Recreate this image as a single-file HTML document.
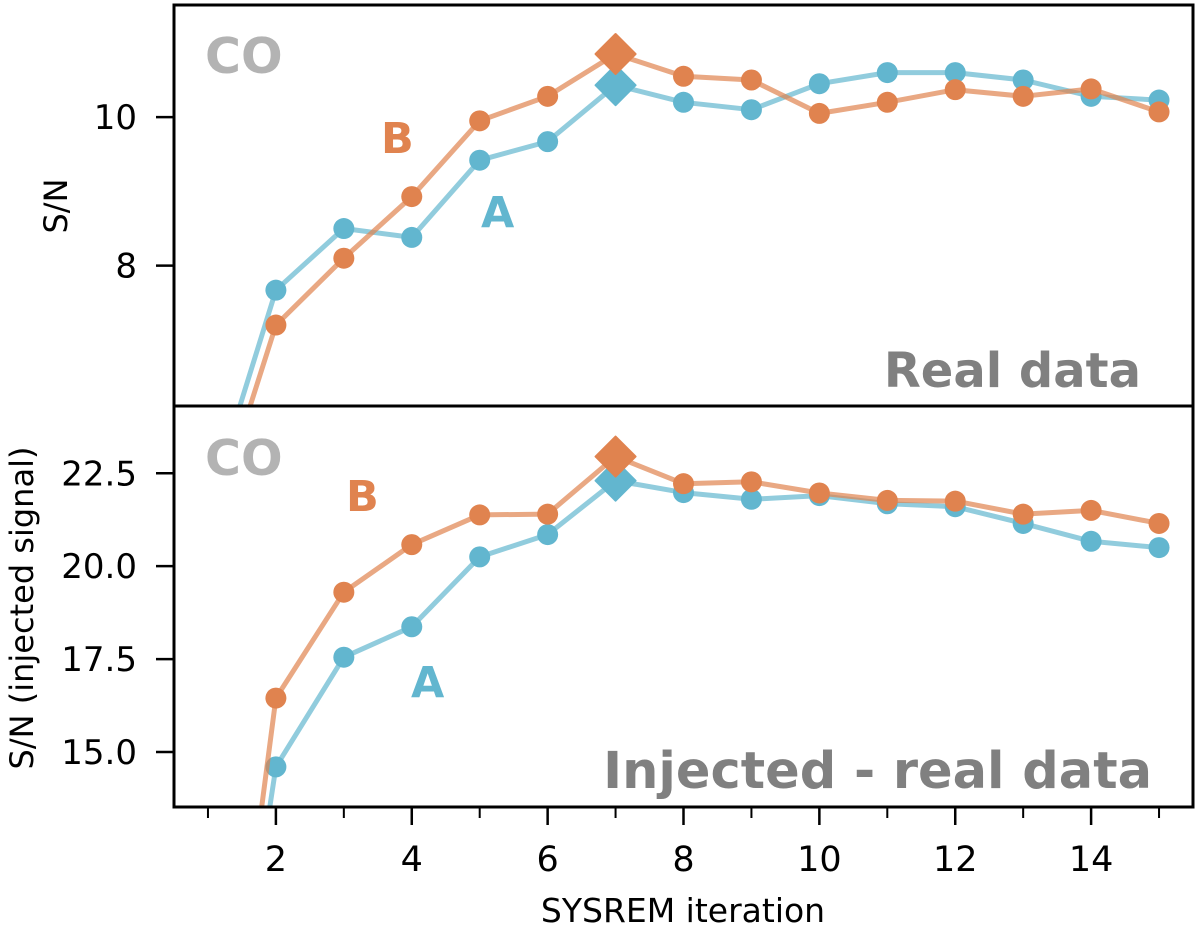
<!DOCTYPE html>
<html><head><meta charset="utf-8"><style>
html,body{margin:0;padding:0;background:#fff;overflow:hidden;width:1200px;height:930px;}
svg{display:block;font-family:"DejaVu Sans","Liberation Sans",sans-serif;}
</style></head><body>
<svg id="chart" width="1200" height="930" viewBox="0 0 1200 930" xmlns="http://www.w3.org/2000/svg">
<defs>
<clipPath id="clipTop"><rect x="174" y="5" width="1019" height="401"/></clipPath>
<clipPath id="clipBot"><rect x="174" y="406" width="1019" height="401"/></clipPath>
</defs>
<g id="gTopMarks" clip-path="url(#clipTop)"></g>
<g id="gBotMarks" clip-path="url(#clipBot)"></g>
<g id="gAxes"></g>
<text x="205" y="73" font-size="49" font-weight="bold" fill="#b3b3b3">CO</text>
<text x="381" y="153" font-size="43" font-weight="bold" fill="#e0834f">B</text>
<text x="481" y="227" font-size="43" font-weight="bold" fill="#62b6cf">A</text>
<text x="1141" y="387" font-size="48" font-weight="bold" fill="#808080" text-anchor="end">Real data</text>
<text x="205" y="475" font-size="49" font-weight="bold" fill="#b3b3b3">CO</text>
<text x="346" y="511" font-size="43" font-weight="bold" fill="#e0834f">B</text>
<text x="411" y="697" font-size="43" font-weight="bold" fill="#62b6cf">A</text>
<text x="1152" y="788" font-size="51" font-weight="bold" fill="#808080" text-anchor="end">Injected - real data</text>
<text x="683" y="922" font-size="33" text-anchor="middle" fill="#000">SYSREM iteration</text>
<text transform="translate(67,206) rotate(-90)" font-size="32" text-anchor="middle" fill="#000">S/N</text>
<text transform="translate(33,608) rotate(-90)" font-size="32" text-anchor="middle" fill="#000">S/N (injected signal)</text>
</svg>
<script>
const iterations = [1,2,3,4,5,6,7,8,9,10,11,12,13,14,15];
const realA = [4.73,7.67,8.5,8.38,9.42,9.67,10.43,10.2,10.1,10.45,10.6,10.6,10.5,10.28,10.23];
const realB = [4.33,7.2,8.1,8.93,9.95,10.28,10.85,10.55,10.5,10.05,10.2,10.37,10.28,10.38,10.07];
const injA = [2.6,14.6,17.55,18.37,20.25,20.85,22.3,21.98,21.8,21.9,21.68,21.6,21.15,20.67,20.5];
const injB = [2.45,16.45,19.3,20.58,21.38,21.4,22.95,22.22,22.27,21.97,21.77,21.75,21.4,21.5,21.15];
const bestIteration = 7;
const xTicks = [2,4,6,8,10,12,14];
const xMinorTicks = [1,3,5,7,9,11,13,15];
const topYTicks = [8,10];
const topYTickLabels = ["8","10"];
const botYTicks = [15,17.5,20,22.5];
const botYTickLabels = ["15.0","17.5","20.0","22.5"];

const NS = "http://www.w3.org/2000/svg";
const L = 174, R = 1193;
const xScale = v => L + (v - 0.5) / 15 * (R - L);
const yTop = v => 5 + (11.51 - v) / (11.51 - 6.11) * 401;
const yBot = v => 406 + (24.31 - v) / (24.31 - 13.52) * 401;
const BLUE = "#62b6cf", ORANGE = "#e0834f";

function mk(tag, attrs, parent) {
  const el = document.createElementNS(NS, tag);
  for (const k in attrs) el.setAttribute(k, attrs[k]);
  parent.appendChild(el);
  return el;
}

function drawSeries(g, xs, ys, yf, color, name) {
  const pts = xs.map((x, i) => xScale(x).toFixed(1) + "," + yf(ys[i]).toFixed(1)).join(" ");
  const line = mk("polyline", {points: pts, fill: "none", stroke: color, "stroke-width": 5, "stroke-opacity": 0.7, "stroke-linejoin": "round"}, g);
  
  
  xs.forEach((x, i) => {
    const cx = xScale(x), cy = yf(ys[i]);
    let m;
    if (x === bestIteration) {
      const s = 20;
      m = mk("polygon", {points: `${cx},${cy-s} ${cx+s},${cy} ${cx},${cy+s} ${cx-s},${cy}`, fill: color, "stroke": color, "stroke-width": 2, "stroke-linejoin": "round"}, g);
    } else {
      m = mk("circle", {cx: cx, cy: cy, r: 10.5, fill: color}, g);
    }
    
    
  });
}

const gT = document.getElementById("gTopMarks");
const gB = document.getElementById("gBotMarks");
drawSeries(gT, iterations, realA, yTop, BLUE, "real-series-a");
drawSeries(gT, iterations, realB, yTop, ORANGE, "real-series-b");
drawSeries(gB, iterations, injA, yBot, BLUE, "injected-series-a");
drawSeries(gB, iterations, injB, yBot, ORANGE, "injected-series-b");

const gA = document.getElementById("gAxes");
const frameT = mk("rect", {x: L, y: 5, width: R - L, height: 401, fill: "none", stroke: "#000", "stroke-width": 3}, gA);


const frameB = mk("rect", {x: L, y: 406, width: R - L, height: 401, fill: "none", stroke: "#000", "stroke-width": 3}, gA);



xTicks.forEach(t => {
  const x = xScale(t);
  const tk = mk("line", {x1: x, x2: x, y1: 807, y2: 825, stroke: "#000", "stroke-width": 2.5}, gA);
  
  
  const lb = mk("text", {x: x, y: 871, "font-size": 35, "text-anchor": "middle"}, gA);
  lb.textContent = String(t);
  
  
});
xMinorTicks.forEach(t => {
  const x = xScale(t);
  const tk = mk("line", {x1: x, x2: x, y1: 807, y2: 818, stroke: "#000", "stroke-width": 2}, gA);
  
  
});
topYTicks.forEach((t, i) => {
  const y = yTop(t);
  const tk = mk("line", {x1: 156, x2: L, y1: y, y2: y, stroke: "#000", "stroke-width": 2.5}, gA);
  
  
  const lb = mk("text", {x: 137, y: y + 12, "font-size": 34, "text-anchor": "end"}, gA);
  lb.textContent = topYTickLabels[i];
  
  
});
botYTicks.forEach((t, i) => {
  const y = yBot(t);
  const tk = mk("line", {x1: 156, x2: L, y1: y, y2: y, stroke: "#000", "stroke-width": 2.5}, gA);
  
  
  const lb = mk("text", {x: 137, y: y + 12, "font-size": 34, "text-anchor": "end"}, gA);
  lb.textContent = botYTickLabels[i];
  
  
});
</script>
</body></html>
